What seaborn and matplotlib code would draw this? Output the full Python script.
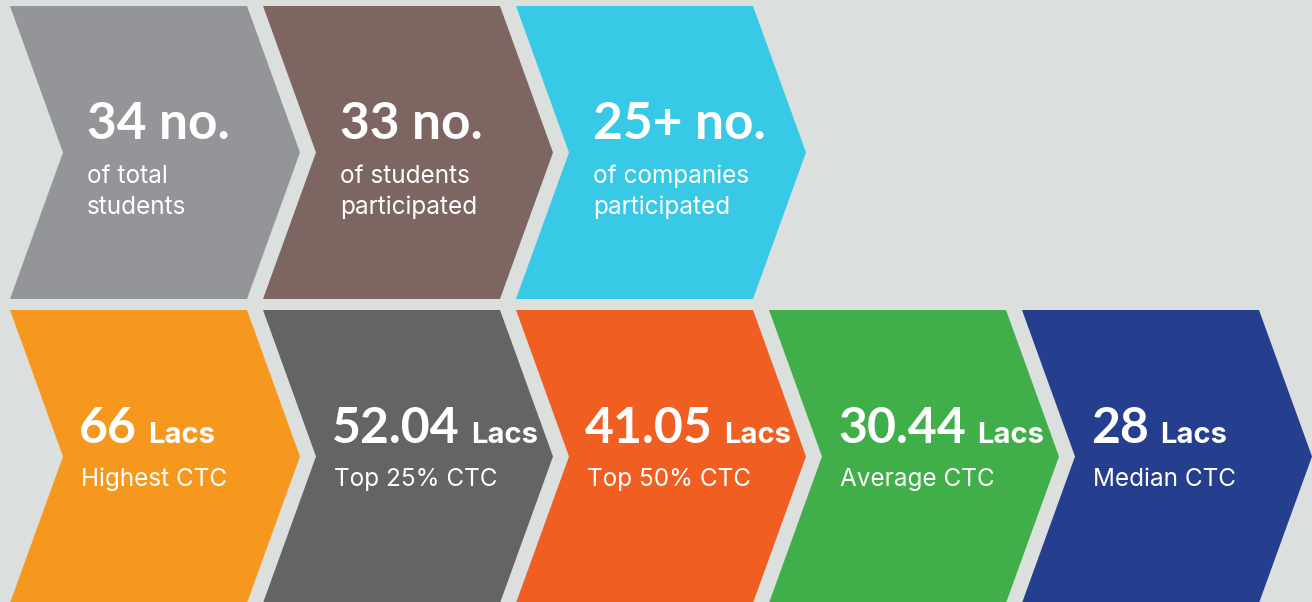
import matplotlib
matplotlib.use("Agg")
import matplotlib.pyplot as plt
from matplotlib.patches import Polygon
import seaborn as sns

# ---- data ----
top_values = ["34", "33", "25+"]
top_unit = "no."
top_labels = ["of total\nstudents", "of students\nparticipated", "of companies\nparticipated"]
top_colors = ["#939598", "#7d6661", "#37c9e5"]

ctc_values = ["66", "52.04", "41.05", "30.44", "28"]
ctc_unit = "Lacs"
ctc_labels = ["Highest CTC", "Top 25% CTC", "Top 50% CTC", "Average CTC", "Median CTC"]
ctc_colors = ["#f7981e", "#646464", "#f15e22", "#40ae49", "#253e8e"]

BG = "#dbdfde"
NUM_FONT = ["Lato", "DejaVu Sans"]
TXT_FONT = ["Inter", "DejaVu Sans"]

sns.set_theme(style="white")
plt.rcParams["font.family"] = TXT_FONT

W, H = 1312, 602
fig = plt.figure(figsize=(W / 100, H / 100), dpi=100, facecolor=BG)
ax = fig.add_axes([0, 0, 1, 1])
ax.set_facecolor(BG)
ax.set_xlim(0, W)
ax.set_ylim(H, 0)
ax.axis("off")

STEP, X0, BODY, TIP, HEIGHT = 253, 10, 237, 53, 293
ROW_TOP = [6, 310]


def chevron(col, row, color):
    x0 = X0 + STEP * col
    t = ROW_TOP[row]
    b = t + HEIGHT
    m = (t + b) / 2
    pts = [(x0, t), (x0 + BODY, t), (x0 + BODY + TIP, m),
           (x0 + BODY, b), (x0, b), (x0 + TIP, m)]
    ax.add_patch(Polygon(pts, closed=True, facecolor=color, edgecolor="none"))
    return x0


# top row
for i, (v, lab, c) in enumerate(zip(top_values, top_labels, top_colors)):
    x0 = chevron(i, 0, c)
    tx = x0 + 77
    ax.text(tx, 139, f"{v} {top_unit}", color="white", fontsize=37,
            fontweight="bold", family=NUM_FONT, va="baseline", ha="left")
    for j, line in enumerate(lab.split("\n")):
        ax.text(tx, 183 + 31 * j, line, color="white", fontsize=17.5,
                family=TXT_FONT, va="baseline", ha="left")

# bottom row
num_texts = []
for i, (v, lab, c) in enumerate(zip(ctc_values, ctc_labels, ctc_colors)):
    x0 = chevron(i, 1, c)
    tx = x0 + 69
    t = ax.text(tx, 443, v, color="white", fontsize=36, fontweight="bold",
                family=NUM_FONT, va="baseline", ha="left")
    num_texts.append(t)
    ax.text(tx + 2, 486, lab, color="white", fontsize=17.5, family=TXT_FONT,
            va="baseline", ha="left")

fig.canvas.draw()
renderer = fig.canvas.get_renderer()
inv = ax.transData.inverted()
for t in num_texts:
    bb = t.get_window_extent(renderer)
    x1 = inv.transform((bb.x1, bb.y0))[0]
    ax.text(x1 + 11, 443, ctc_unit, color="white", fontsize=21,
            fontweight="bold", family=TXT_FONT, va="baseline", ha="left")

fig.savefig("out.png", dpi=100, facecolor=BG)
